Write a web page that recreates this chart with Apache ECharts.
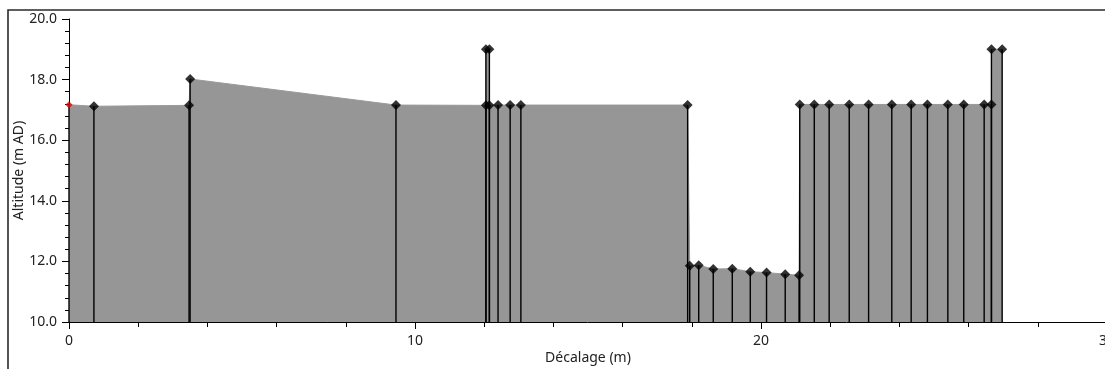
<!DOCTYPE html>
<html>
<head>
<meta charset="utf-8">
<script src="https://cdn.jsdelivr.net/npm/echarts@6/dist/echarts.min.js"></script>
<style>
  html, body { margin: 0; padding: 0; background: #fff; }
  #chart { width: 1105px; height: 369px; }
</style>
</head>
<body>
<div id="chart"></div>
<script>
// profil en travers : décalage (m) / altitude (m AD)
const offsets = [0, 0.72, 3.47, 3.50, 9.45, 12.05, 12.05, 12.15, 12.15, 12.40, 12.75, 13.06,
  17.88, 17.94, 18.20, 18.62, 19.17, 19.69, 20.16, 20.70, 21.10,
  21.12, 21.54, 21.97, 22.55, 23.11, 23.78, 24.34, 24.81, 25.40, 25.86, 26.45, 26.66, 26.66, 26.97];
const altitudes = [17.17, 17.12, 17.15, 18.02, 17.16, 17.15, 19.00, 19.00, 17.15, 17.16, 17.16, 17.16,
  17.16, 11.86, 11.87, 11.75, 11.76, 11.66, 11.63, 11.58, 11.54,
  17.18, 17.18, 17.18, 17.18, 17.18, 17.18, 17.18, 17.18, 17.18, 17.18, 17.18, 17.18, 19.00, 19.00];
const xTicks = [0, 10, 20, 30];
const yTicks = [10, 12, 14, 16, 18, 20];

const points = offsets.map((x, i) => [x, altitudes[i]]);
const font = 'Noto Sans';

const chart = echarts.init(document.getElementById('chart'));

chart.setOption({
  animation: false,
  textStyle: { fontFamily: font },
  grid: { left: 69, top: 19, width: 1038, height: 303, outerBoundsMode: 'none', containLabel: false },
  graphic: [{
    type: 'rect',
    shape: { x: 8, y: 10, width: 1200, height: 420 },
    style: { fill: 'none', stroke: '#2a2a2a', lineWidth: 1.6 },
    silent: true
  }],
  xAxis: {
    type: 'value',
    min: xTicks[0],
    max: xTicks[xTicks.length - 1],
    interval: 10,
    name: 'Décalage (m)',
    nameLocation: 'middle',
    nameGap: 29,
    nameMoveOverlap: false,
    nameTextStyle: { fontSize: 14, color: '#222' },
    axisLine: { lineStyle: { color: '#000', width: 1 } },
    axisTick: { length: 7, lineStyle: { color: '#000' } },
    minorTick: { show: true, splitNumber: 5, length: 5, lineStyle: { color: '#000' } },
    axisLabel: { fontSize: 14, color: '#222', margin: 12 },
    splitLine: { show: false }
  },
  yAxis: {
    type: 'value',
    min: yTicks[0],
    max: yTicks[yTicks.length - 1],
    interval: 2,
    name: 'Altitude (m AD)',
    nameLocation: 'middle',
    nameGap: 43,
    nameMoveOverlap: false,
    nameTextStyle: { fontSize: 14, color: '#222' },
    axisLine: { show: true, lineStyle: { color: '#000', width: 1 } },
    axisTick: { show: true, length: 7, lineStyle: { color: '#000' } },
    minorTick: { show: true, splitNumber: 5, length: 4, lineStyle: { color: '#000' } },
    axisLabel: { fontSize: 14, color: '#222', margin: 12, formatter: v => v.toFixed(1) },
    splitLine: { show: false }
  },
  series: [
    {
      // surface du sol
      type: 'line',
      data: points,
      z: 1,
      showSymbol: false,
      lineStyle: { color: '#9a9a9a', width: 1 },
      areaStyle: { color: '#969696', opacity: 1, origin: 'start' }
    },
    {
      // tiges verticales
      type: 'custom',
      data: points,
      z: 2,
      renderItem: function (params, api) {
        const top = api.coord([api.value(0), api.value(1)]);
        const bottom = api.coord([api.value(0), yTicks[0]]);
        return {
          type: 'line',
          shape: { x1: top[0], y1: top[1], x2: bottom[0], y2: bottom[1] },
          style: { stroke: '#000', lineWidth: 1.4 }
        };
      }
    },
    {
      type: 'scatter',
      data: points.map((p, i) => i === 0
        ? { value: p, symbolSize: 7, itemStyle: { color: '#e00000' } }
        : p),
      z: 3,
      symbol: 'diamond',
      symbolSize: 10,
      itemStyle: { color: '#000' }
    }
  ]
});
</script>
</body>
</html>
